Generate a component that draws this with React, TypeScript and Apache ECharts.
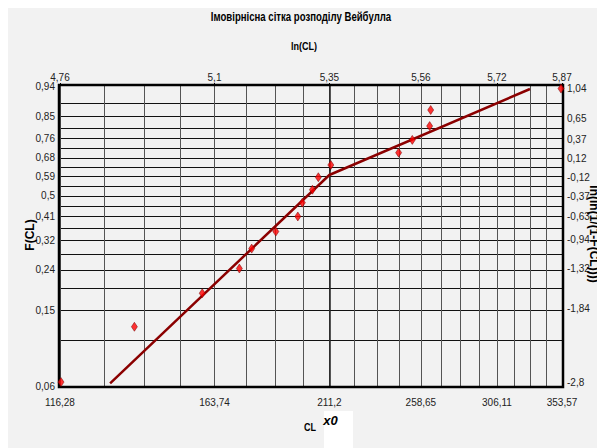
import React, { useEffect, useRef } from 'react';
import * as echarts from 'echarts';

// Observed points: CL values and their plotting positions F(CL)
const CL = [116.28, 136.9, 159.2, 172.9, 177.7, 187.5, 196.9, 198.9, 203.4, 206.1, 211.9, 246.4, 254.0, 264.0, 264.6, 353.57];
const F = [0.0588, 0.1176, 0.1765, 0.2353, 0.2941, 0.3529, 0.4118, 0.4706, 0.5294, 0.5882, 0.6471, 0.7059, 0.7647, 0.8235, 0.8824, 0.9412];

// Fitted broken line (two segments, knee at x0)
const fitCL = [129.7, 211.2, 330.0];
const fitF = [0.0579, 0.599, 0.9403];

const x0CL = 211.2;

// Tick labels
const xTickCL = [116.28, 163.74, 211.2, 258.65, 306.11, 353.57];
const xTickLabelsCL = ['116,28', '163,74', '211,2', '258,65', '306,11', '353,57'];
const xTickLabelsLn = ['4,76', '5,1', '5,35', '5,56', '5,72', '5,87'];
const fTickVals = [0.0588, 0.1471, 0.2353, 0.3235, 0.4118, 0.5, 0.5882, 0.6765, 0.7647, 0.8529, 0.9412];
const fTickLabels = ['0,06', '0,15', '0,24', '0,32', '0,41', '0,5', '0,59', '0,68', '0,76', '0,85', '0,94'];
const wTickLabels = ['-2,8', '-1,84', '-1,32', '-0,94', '-0,63', '-0,37', '-0,12', '0,12', '0,37', '0,65', '1,04'];
const gridDivisions = 20;

const weib = (f: number) => Math.log(-Math.log(1 - f));
const FONT = "'Liberation Sans', Arial, sans-serif";

const lnMin = Math.log(xTickCL[0]);
const lnMax = Math.log(xTickCL[xTickCL.length - 1]);
const yMin = weib(fTickVals[0]);
const yMax = weib(fTickVals[fTickVals.length - 1]);

const gridLnVals = Array.from({ length: gridDivisions + 1 }, (_, k) =>
  Math.log(xTickCL[0] + (k * (xTickCL[xTickCL.length - 1] - xTickCL[0])) / gridDivisions)
);
const gridWVals = Array.from({ length: gridDivisions + 1 }, (_, k) =>
  weib(fTickVals[0] + (k * (fTickVals[fTickVals.length - 1] - fTickVals[0])) / gridDivisions)
);
const xLabelPos = xTickCL.map((v) => Math.log(v));
const yLabelPos = fTickVals.map(weib);

function pick(labels: string[], positions: number[], v: number) {
  let best = 0;
  let bd = Infinity;
  positions.forEach((p, i) => {
    const d = Math.abs(p - v);
    if (d < bd) {
      bd = d;
      best = i;
    }
  });
  return labels[best];
}

const labelStyle = { fontSize: 10, color: '#222', fontFamily: FONT };

export default function App() {
  const ref = useRef<HTMLDivElement>(null);
  useEffect(() => {
    if (!ref.current) return;
    document.body.style.overflow = 'hidden';
    const chart = echarts.init(ref.current, undefined, { renderer: 'svg' });
    const outer = { left: 52, top: 78, width: 502, height: 300 };
    const inner = { left: 53, top: 80.6, width: 500, height: 293.5 };
    chart.setOption({
      animation: false,
      backgroundColor: '#f2f2f2',
      grid: [
        { ...outer, show: false },
        { ...inner, show: false },
        { ...outer, show: false },
      ],
      xAxis: [
        {
          gridIndex: 0, type: 'value', position: 'bottom', min: lnMin, max: lnMax,
          axisLine: { show: false },
          axisTick: { show: false, customValues: gridLnVals },
          splitLine: { show: true, lineStyle: { color: '#555', width: 1 } },
          axisLabel: {
            ...labelStyle, margin: 11, customValues: xLabelPos,
            formatter: (v: number) => pick(xTickLabelsCL, xLabelPos, v),
          },
        },
        {
          gridIndex: 0, type: 'value', position: 'top', min: lnMin, max: lnMax,
          axisLine: { show: false },
          axisTick: { show: true, customValues: xLabelPos, length: 3, lineStyle: { color: '#000', width: 1 } },
          splitLine: { show: false },
          axisLabel: {
            ...labelStyle, margin: 4, customValues: xLabelPos,
            formatter: (v: number) => pick(xTickLabelsLn, xLabelPos, v),
          },
        },
        {
          gridIndex: 1, type: 'value', min: lnMin, max: lnMax, show: false,
        },
        {
          gridIndex: 2, type: 'value', position: 'bottom', min: lnMin, max: lnMax,
          axisLine: { show: false },
          axisTick: { show: true, customValues: [Math.log(x0CL)], length: 4, lineStyle: { color: '#222', width: 1.5 } },
          splitLine: { show: true, lineStyle: { color: '#222', width: 1.5 } },
          axisLabel: { show: false },
        },
      ],
      yAxis: [
        {
          gridIndex: 0, type: 'value', position: 'left', min: yMin, max: yMax,
          axisLine: { show: false },
          axisTick: { show: false, customValues: gridWVals },
          splitLine: { show: true, lineStyle: { color: '#111', width: 1.2 } },
          axisLabel: {
            ...labelStyle, margin: 5, customValues: yLabelPos,
            formatter: (v: number) => pick(fTickLabels, yLabelPos, v),
          },
        },
        {
          gridIndex: 1, type: 'value', position: 'right', min: yMin, max: yMax,
          axisLine: { show: false },
          axisTick: { show: false },
          splitLine: { show: false },
          axisLabel: {
            ...labelStyle, margin: 6, customValues: yLabelPos,
            formatter: (v: number) => pick(wTickLabels, yLabelPos, v),
          },
        },
        { gridIndex: 2, type: 'value', min: yMin, max: yMax, show: false },
      ],
      series: [
        {
          type: 'line', xAxisIndex: 2, yAxisIndex: 1, clip: false, z: 3,
          symbol: 'none',
          lineStyle: { color: '#8b0000', width: 2.5 },
          data: fitCL.map((c, i) => [Math.log(c), weib(fitF[i])]),
        },
        {
          type: 'scatter', xAxisIndex: 2, yAxisIndex: 1, clip: false, z: 4,
          symbol: 'diamond', symbolSize: [6, 9],
          itemStyle: { color: '#ff0000', borderColor: '#700000', borderWidth: 0.6 },
          data: CL.map((c, i) => [Math.log(c), weib(F[i])]),
        },
      ],
      graphic: [
        {
          type: 'rect', z: 1, silent: true,
          shape: { x: 51, y: 77, width: 504, height: 302 },
          style: { fill: 'none', stroke: '#000', lineWidth: 2.5 },
        },
        {
          type: 'rect', z: 1, silent: true,
          shape: { x: 316, y: 403, width: 29, height: 40 },
          style: { fill: '#ffffff' },
        },
        {
          type: 'text', x: 293, y: 9, z: 5, scaleX: 0.8,
          style: { text: 'Імовірнісна сітка розподілу Вейбулла', align: 'center', verticalAlign: 'middle', font: `bold 12px ${FONT}`, fill: '#000' },
        },
        {
          type: 'text', x: 296, y: 38, z: 5, scaleX: 0.82,
          style: { text: 'ln(CL)', align: 'center', verticalAlign: 'middle', font: `bold 11px ${FONT}`, fill: '#000' },
        },
        {
          type: 'text', x: 22, y: 227, z: 5, rotation: Math.PI / 2,
          style: { text: 'F(CL)', align: 'center', verticalAlign: 'middle', font: `bold 12px ${FONT}`, fill: '#000' },
        },
        {
          type: 'text', x: 586, y: 226, z: 5, rotation: -Math.PI / 2,
          style: { text: 'ln(ln(1/(1-F(CL))))', align: 'center', verticalAlign: 'middle', font: `bold 12px ${FONT}`, fill: '#000' },
        },
        {
          type: 'text', x: 302, y: 419.5, z: 5, scaleX: 0.82,
          style: { text: 'CL', align: 'center', verticalAlign: 'middle', font: `bold 11px ${FONT}`, fill: '#000' },
        },
        {
          type: 'text', x: 322.5, y: 412, z: 5,
          style: { text: 'x0', align: 'center', verticalAlign: 'middle', font: `italic bold 13px ${FONT}`, fill: '#000' },
        },
      ],
    });
    return () => chart.dispose();
  }, []);
  return <div ref={ref} style={{ width: 597, height: 440 }} />;
}
